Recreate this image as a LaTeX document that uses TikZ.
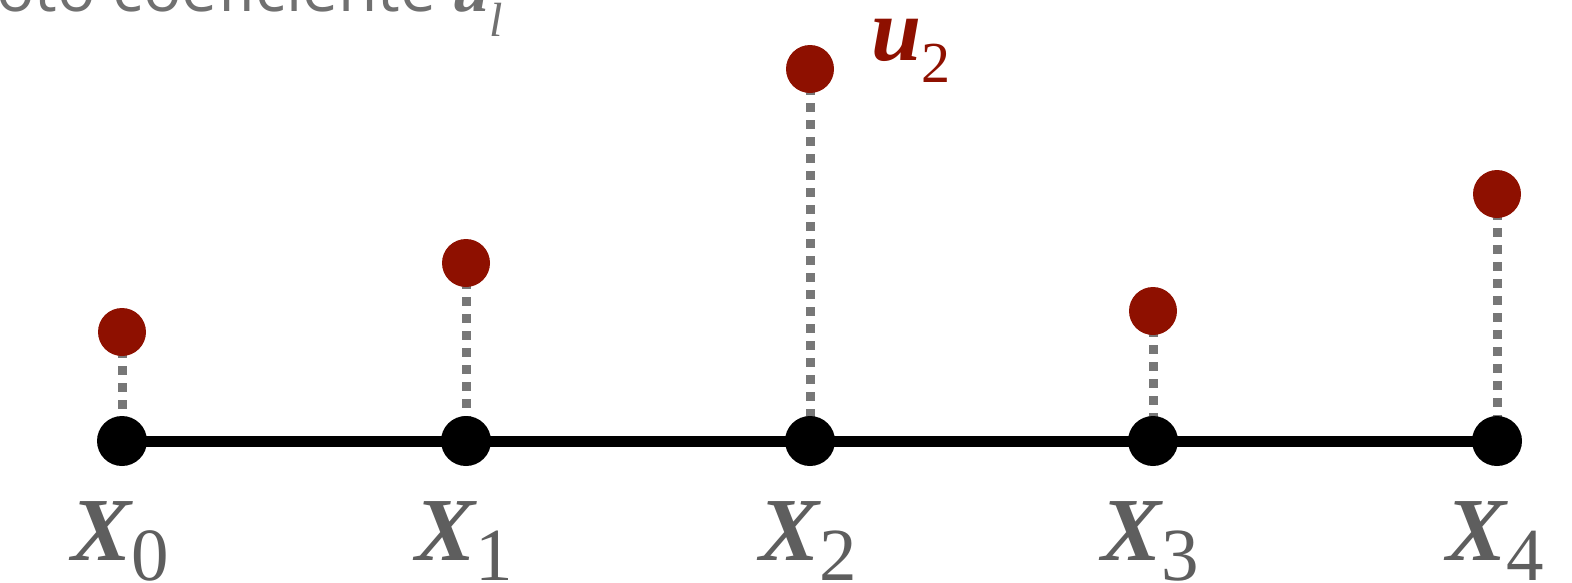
\documentclass[tikz,border=0pt]{standalone}
\usepackage{fontspec}
\setmainfont{Liberation Serif}
\newfontfamily\topfont{Open Sans}
\definecolor{dred}{HTML}{8E1000}
\definecolor{lblgray}{HTML}{5E5E5E}
\definecolor{dotgray}{HTML}{777777}
\definecolor{topgray}{HTML}{707070}
\tikzset{
  axisdot/.style={circle, fill=black, minimum size=50pt, inner sep=0pt},
  reddot/.style={circle, fill=dred, minimum size=48pt, inner sep=0pt},
  stem/.style={draw=dotgray, line width=9pt, dash pattern=on 9pt off 8pt},
  axisline/.style={draw=black, line width=11pt},
  xlbl/.style={anchor=base, inner sep=0pt, text=lblgray, font=\fontsize{90}{90}\selectfont},
}
\newcommand{\xlab}[1]{{\bfseries\itshape X}\raisebox{-20pt}{\fontsize{75}{75}\selectfont #1}}
\begin{document}
\begin{tikzpicture}[x=1pt,y=-1pt]
\useasboundingbox (0,0) rectangle (1572,582);
\clip (0,0) rectangle (1572,582);
% top clipped text
\node[anchor=base west, inner sep=0pt, text=topgray] (top) at (-4,11)
  {\topfont\fontsize{64}{64}\selectfont oto coeficiente {\rmfamily\bfseries\itshape\fontsize{66}{66}\selectfont u}\raisebox{-25pt}{\rmfamily\itshape\fontsize{48}{48}\selectfont l}};
% axis coordinates
\coordinate (p0) at (122,441);
\coordinate (p1) at (466,441);
\coordinate (p2) at (810,441);
\coordinate (p3) at (1153,441);
\coordinate (p4) at (1497,441);
\coordinate (q0) at (122,332);
\coordinate (q1) at (466,263);
\coordinate (q2) at (810,69);
\coordinate (q3) at (1153,311);
\coordinate (q4) at (1497,194);
% stems
\foreach \i in {0,...,4} {\draw[stem] (q\i) -- (p\i);}
% axis
\draw[axisline] (p0) -- (p4);
% dots
\foreach \i in {0,...,4} {
  \node[axisdot] (a\i) at (p\i) {};
  \node[reddot] (r\i) at (q\i) {};
}
% labels
\node[xlbl] (x0) at (120,560) {\xlab{0}};
\node[xlbl] (x1) at (464,560) {\xlab{1}};
\node[xlbl] (x2) at (808,560) {\xlab{2}};
\node[xlbl] (x3) at (1150,560) {\xlab{3}};
\node[xlbl] (x4) at (1495,560) {\xlab{4}};
\node[anchor=base west, inner sep=0pt, text=dred] (u2) at (871,60)
  {\fontsize{90}{90}\selectfont{\bfseries\itshape u}\raisebox{-22pt}{\fontsize{58}{58}\selectfont 2}};
\end{tikzpicture}
\end{document}
